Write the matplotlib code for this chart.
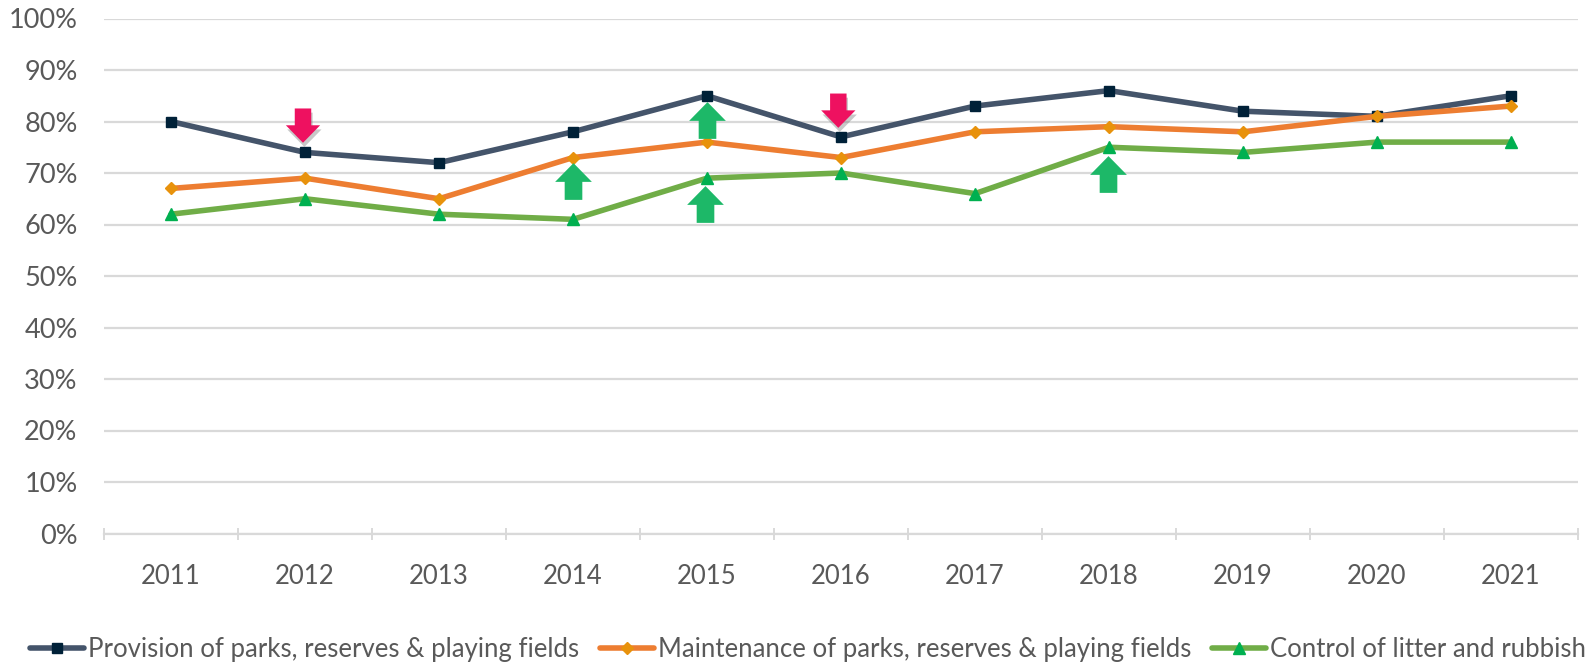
import matplotlib
matplotlib.use("Agg")
import matplotlib.pyplot as plt
from matplotlib.path import Path
from matplotlib.ticker import FuncFormatter, MultipleLocator, FixedLocator
import matplotlib.patheffects as pe

years = [2011, 2012, 2013, 2014, 2015, 2016, 2017, 2018, 2019, 2020, 2021]
provision = [80, 74, 72, 78, 85, 77, 83, 86, 82, 81, 85]
maintenance = [67, 69, 65, 73, 76, 73, 78, 79, 78, 81, 83]
litter = [62, 65, 62, 61, 69, 70, 66, 75, 74, 76, 76]
up_years = [2014, 2015.0, 2014.985, 2017.99]
up_levels = [68.4, 80.3, 63.9, 69.8]
down_years = [2011.985, 2015.98]
down_levels = [79.2, 82.1]

plt.rcParams["font.family"] = ["Lato", "DejaVu Sans"]
W, H = 1596, 663
fig = plt.figure(figsize=(W / 100, H / 100), dpi=100)
ax = fig.add_axes([104 / W, 1 - 533.5 / H, (1578 - 104) / W, (533.5 - 18.5) / H])

GRID = "#D9D9D9"
TXT = "#595959"
ax.set_xlim(min(years) - 0.5, max(years) + 0.5)
ax.set_ylim(0, 100)
ax.yaxis.set_major_locator(MultipleLocator(10))
ax.yaxis.set_major_formatter(FuncFormatter(lambda v, _: f"{v:.0f}%"))
ax.set_xticks(years)
ax.xaxis.set_minor_locator(FixedLocator([y - 0.5 for y in years] + [years[-1] + 0.5]))
ax.grid(axis="y", color=GRID, lw=1.6, zorder=0)
ax.set_axisbelow(True)
for s in ["top", "right", "left"]:
    ax.spines[s].set_visible(False)
ax.spines["bottom"].set_color(GRID)
ax.spines["bottom"].set_linewidth(1.6)
ax.tick_params(axis="y", length=0, labelsize=19.5, labelcolor=TXT, pad=19)
ax.tick_params(axis="x", which="major", length=0, labelsize=18.5, labelcolor=TXT, pad=22)
ax.tick_params(axis="x", which="minor", length=8, width=1.4, color=GRID, direction="inout")

series = [
    (provision, "Provision of parks, reserves & playing fields", "#44546A", "#002138", "s", 7),
    (maintenance, "Maintenance of parks, reserves & playing fields", "#ED7D31", "#E8920C", "D", 5.8),
    (litter, "Control of litter and rubbish", "#70AD47", "#00B050", "^", 8.5),
]
for vals, lab, col, mc, mk, ms in series:
    ax.plot(years, vals, color=col, lw=4, marker=mk, ms=ms, mfc=mc, mec=mc, label=lab, zorder=3,
            solid_capstyle="round")

up = Path([(-0.48, -1), (0.48, -1), (0.48, -0.02), (1, -0.02), (0, 1), (-1, -0.02), (-0.48, -0.02), (-0.48, -1)],
          [1, 2, 2, 2, 2, 2, 2, 79])
down = Path([(x, -y) for x, y in up.vertices], up.codes)
ax.scatter(up_years, up_levels, marker=up, s=700, c="#1DB868", lw=0, zorder=4)
ax.scatter(down_years, down_levels, marker=down, s=610, c="#EE1160", lw=0, zorder=4,
           path_effects=[pe.SimplePatchShadow(offset=(1, -3), shadow_rgbFace="#777777", alpha=0.4), pe.Normal()])

ax.legend(loc="lower center", bbox_to_anchor=(0.4777, -0.27), ncol=3, frameon=False,
          fontsize=18.5, labelcolor=TXT, handlelength=2.1, handletextpad=0.15, columnspacing=0.82, borderaxespad=0)
fig.savefig("out.png", dpi=100)
